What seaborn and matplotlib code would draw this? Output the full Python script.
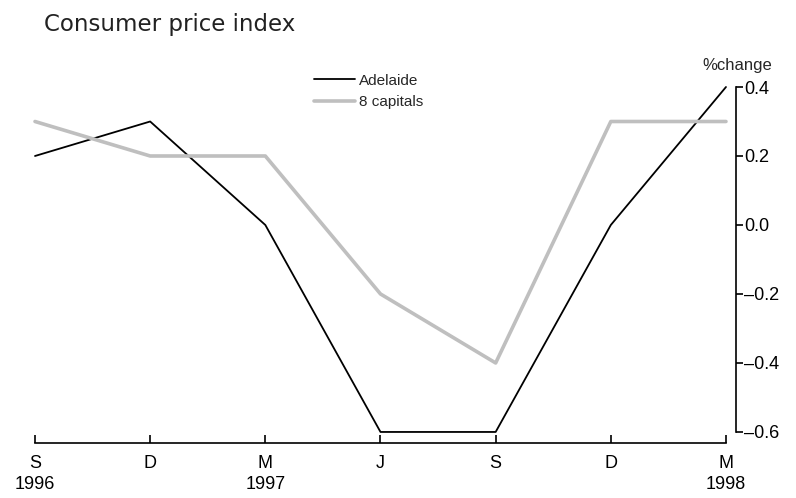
import matplotlib
matplotlib.use("Agg")
import matplotlib.pyplot as plt
import pandas as pd
import seaborn as sns

quarters = ["S\n1996", "D", "M\n1997", "J", "S", "D", "M\n1998"]
adelaide = [0.2, 0.3, 0.0, -0.6, -0.6, 0.0, 0.4]
capitals = [0.3, 0.2, 0.2, -0.2, -0.4, 0.3, 0.3]
yticks = [0.4, 0.2, 0.0, -0.2, -0.4, -0.6]
ytick_labels = ["0.4", "0.2", "0.0", "\u20130.2", "\u20130.4", "\u20130.6"]

sns.set_theme(style="white")
plt.rcParams["font.family"] = ["Liberation Sans", "DejaVu Sans"]
plt.rcParams["xtick.direction"] = "in"
plt.rcParams["ytick.direction"] = "out"

df = pd.DataFrame({
    "pos": list(range(len(quarters))) * 2,
    "value": adelaide + capitals,
    "series": ["Adelaide"] * len(adelaide) + ["8 capitals"] * len(capitals),
})

fig = plt.figure(figsize=(7.96, 4.98), dpi=100)
ax = fig.add_axes([35 / 796, 1 - 443 / 498, (736 - 35) / 796, (443 - 87) / 498])

sns.lineplot(data=df, x="pos", y="value", hue="series", size="series",
             palette={"Adelaide": "black", "8 capitals": "#bfbfbf"},
             sizes={"Adelaide": 1.3, "8 capitals": 2.6},
             hue_order=["Adelaide", "8 capitals"], ax=ax, clip_on=False)

ax.set_xlim(0, 6.087)
ax.set_ylim(-0.632, 0.4)

ax.spines["top"].set_visible(False)
ax.spines["left"].set_visible(False)
ax.spines["bottom"].set_bounds(0, 6)
ax.spines["right"].set_bounds(-0.6, 0.4)
for s in ["bottom", "right"]:
    ax.spines[s].set_color("black")
    ax.spines[s].set_linewidth(1.2)

ax.set_xticks(range(len(quarters)))
ax.set_xticklabels(quarters, fontsize=13, linespacing=1.3)
ax.yaxis.tick_right()
ax.set_yticks(yticks)
ax.set_yticklabels(ytick_labels, fontsize=13)
ax.xaxis.set_tick_params(which="major", direction="in", length=6, width=1.2,
                         pad=9, bottom=True, top=False, colors="black")
ax.yaxis.set_tick_params(which="major", direction="out", length=5, width=1.2,
                         pad=1, right=True, left=False, colors="black")
ax.set_xlabel("")
ax.set_ylabel("")

ax.legend(frameon=False, loc="upper left", bbox_to_anchor=(306 / 796, 1 - 66 / 498),
          bbox_transform=fig.transFigure, fontsize=11, handlelength=2.7,
          handletextpad=0.25, labelspacing=0.5, borderpad=0)

fig.text(737 / 796, 1 - 70 / 498, "%change", fontsize=12, ha="center", va="baseline")
fig.text(44 / 796, 1 - 31 / 498, "Consumer price index", fontsize=16.5,
         family=["DejaVu Sans"], color="#222222", ha="left", va="baseline")

fig.savefig("out.png", dpi=100)
